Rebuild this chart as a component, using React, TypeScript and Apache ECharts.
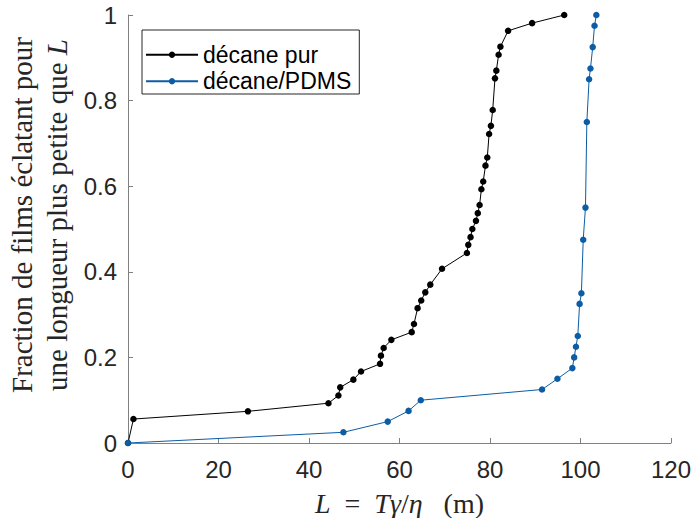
import React, { useEffect, useRef } from "react";
import * as echarts from "echarts";

const seriesNames = ["décane pur", "décane/PDMS"];

// [L (m), cumulative fraction]
const decanePur: [number, number][] = [
  [0, 0], [1.2, 0.056], [26.5, 0.074], [44.3, 0.093], [46.5, 0.111], [46.9, 0.13],
  [49.8, 0.148], [51.5, 0.167], [55.7, 0.185], [55.9, 0.204], [56.5, 0.222],
  [58.2, 0.241], [62.7, 0.259], [63.2, 0.278], [64.0, 0.315], [64.8, 0.333],
  [65.7, 0.352], [66.8, 0.37], [69.4, 0.407], [74.9, 0.444], [75.2, 0.463],
  [75.7, 0.481], [76.1, 0.5], [76.9, 0.519], [77.3, 0.537], [77.7, 0.556],
  [78.1, 0.593], [78.5, 0.611], [79.0, 0.648], [79.4, 0.667], [79.8, 0.722],
  [80.2, 0.741], [80.6, 0.778], [81.1, 0.852], [81.4, 0.87], [81.9, 0.907],
  [82.3, 0.926], [84.0, 0.963], [89.3, 0.981], [96.4, 1.0],
];

const decanePdms: [number, number][] = [
  [0, 0], [47.6, 0.025], [57.4, 0.05], [62.0, 0.075], [64.7, 0.1], [91.5, 0.125],
  [94.9, 0.15], [98.2, 0.175], [98.6, 0.2], [99.0, 0.225], [99.4, 0.25],
  [99.8, 0.325], [100.2, 0.35], [100.6, 0.475], [101.1, 0.55], [101.4, 0.75],
  [101.9, 0.85], [102.2, 0.875], [102.7, 0.925], [103.1, 0.975], [103.5, 1.0],
];

const xRange = [0, 120, 20];
const yRange = [0, 1, 0.2];

const colors = ["#000000", "#0C5DA5"];
const axisColor = "#808080";
const labelColor = "#262626";
const sans = "'Liberation Sans', Arial, sans-serif";
const serif = "'Liberation Serif', 'Times New Roman', serif";

export default function App() {
  const ref = useRef<HTMLDivElement>(null);
  useEffect(() => {
    if (!ref.current) return;
    const chart = echarts.init(ref.current, null, { renderer: "svg" });
    const axisCommon = {
      axisLine: { show: true, lineStyle: { color: axisColor, width: 1 } },
      axisTick: { show: true, inside: true, length: 5, lineStyle: { color: axisColor } },
      splitLine: { show: false },
      axisLabel: { color: labelColor, fontFamily: sans, fontSize: 24 },
    };
    const xName = { fontFamily: serif, fontSize: 28, color: labelColor };
    chart.setOption({
      animation: false,
      backgroundColor: "#ffffff",
      grid: {
        left: 128,
        top: 15,
        right: 22,
        bottom: 75,
        containLabel: false,
        outerBoundsMode: "none",
      },
      xAxis: {
        type: "value",
        min: xRange[0],
        max: xRange[1],
        interval: xRange[2],
        ...axisCommon,
        axisLabel: { ...axisCommon.axisLabel, margin: 14 },
        name: "{i|L}{n|  =  }{i|T}{i|γ}{n|/}{i|η}{n|   (m)}",
        nameLocation: "middle",
        nameGap: 46,
        nameTextStyle: {
          ...xName,
          rich: {
            i: { ...xName, fontStyle: "italic" },
            n: { ...xName },
          },
        },
      },
      yAxis: {
        type: "value",
        min: yRange[0],
        max: yRange[1],
        interval: yRange[2],
        ...axisCommon,
        axisLabel: { ...axisCommon.axisLabel, margin: 11 },
      },
      legend: {
        orient: "vertical",
        left: 142,
        top: 30,
        data: seriesNames,
        itemWidth: 52,
        itemHeight: 8,
        itemGap: 1,
        padding: [12, 8, 0, 3],
        borderColor: "#262626",
        borderWidth: 1,
        backgroundColor: "#ffffff",
        textStyle: { fontFamily: sans, fontSize: 23, color: "#000", lineHeight: 25.5 },
      },
      graphic: [
        {
          type: "text",
          x: 39,
          y: 215,
          rotation: Math.PI / 2,
          style: {
            text: "{n|Fraction de films éclatant pour}\n{n|une longueur plus petite que }{i|L}",
            align: "center",
            verticalAlign: "middle",
            rich: {
              n: { fontFamily: serif, fontSize: 29, lineHeight: 35, fill: labelColor },
              i: { fontFamily: serif, fontSize: 29, lineHeight: 35, fontStyle: "italic", fill: labelColor },
            },
          },
        },
      ],
      series: [
        {
          name: seriesNames[0],
          type: "line",
          data: decanePur,
          symbol: "circle",
          symbolSize: 6.5,
          showAllSymbol: true,
          lineStyle: { color: colors[0], width: 1 },
          itemStyle: { color: colors[0] },
        },
        {
          name: seriesNames[1],
          type: "line",
          data: decanePdms,
          symbol: "circle",
          symbolSize: 6.5,
          showAllSymbol: true,
          lineStyle: { color: colors[1], width: 1 },
          itemStyle: { color: colors[1] },
        },
      ],
    });
    return () => chart.dispose();
  }, []);
  return <div ref={ref} style={{ width: 693, height: 518, position: "absolute", left: 0, top: 0 }} />;
}
